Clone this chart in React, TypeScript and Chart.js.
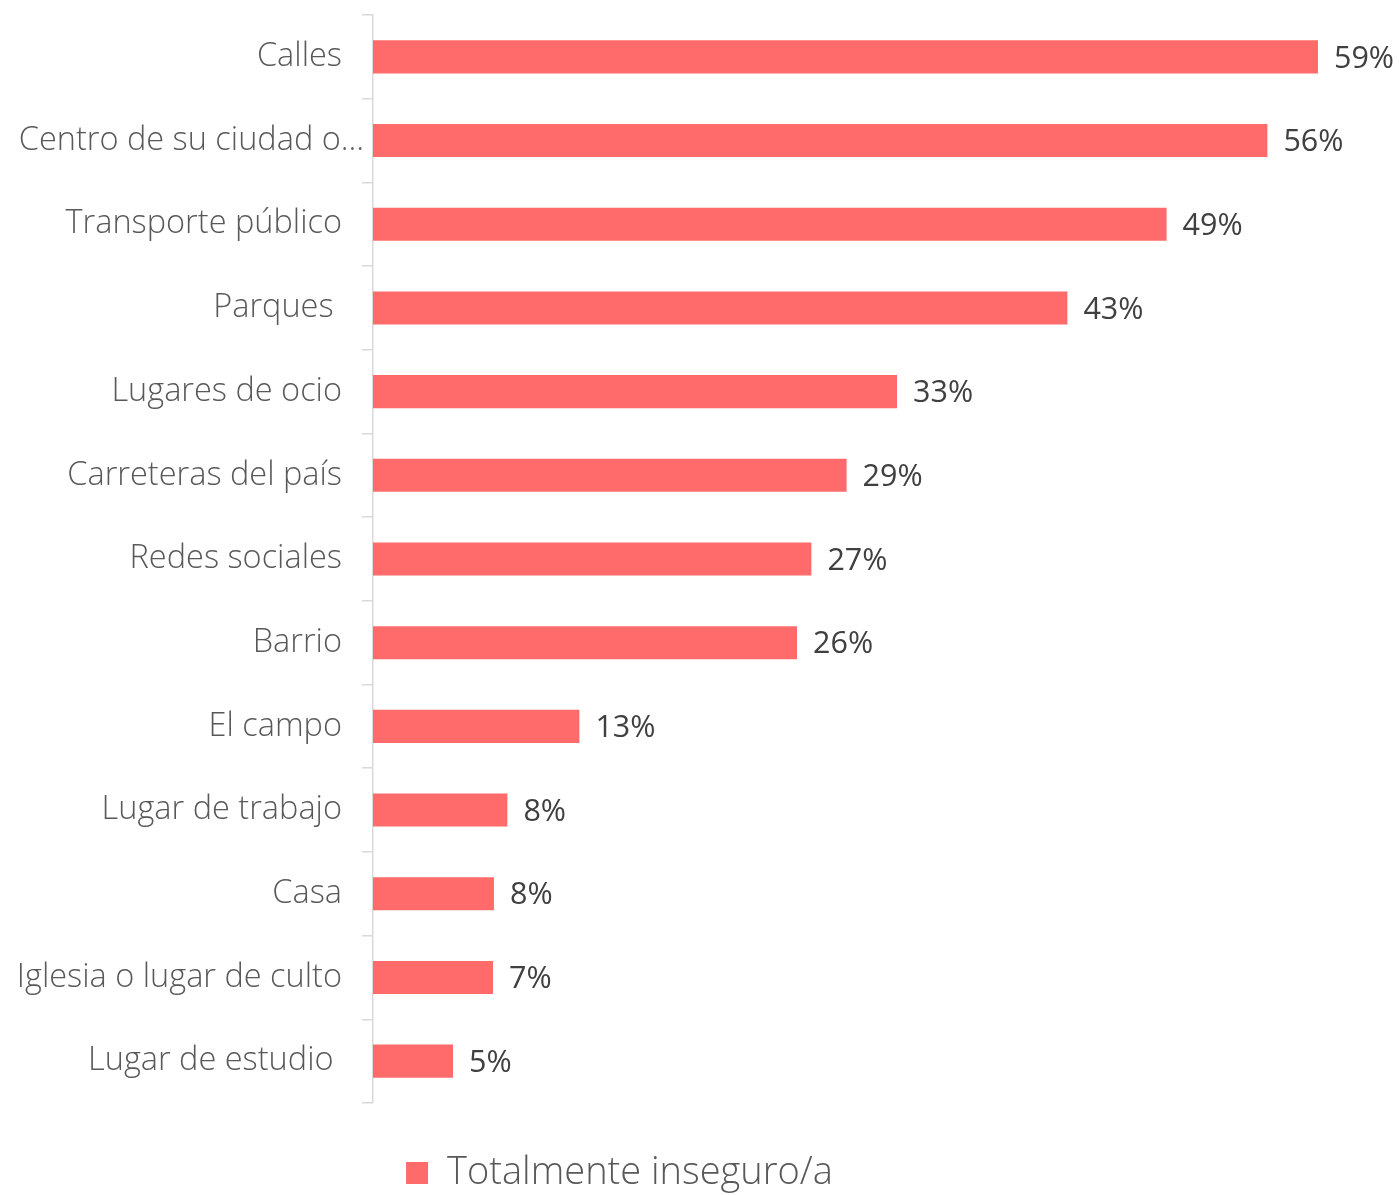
import React, { useEffect, useRef } from "react";
import { Chart, registerables } from "chart.js";

Chart.register(...registerables);

const categories = [
  "Calles",
  "Centro de su ciudad o…",
  "Transporte público",
  "Parques ",
  "Lugares de ocio",
  "Carreteras del país",
  "Redes sociales",
  "Barrio",
  "El campo",
  "Lugar de trabajo",
  "Casa",
  "Iglesia o lugar de culto",
  "Lugar de estudio ",
];

const values = [0.5906, 0.559, 0.496, 0.434, 0.3275, 0.296, 0.274, 0.265, 0.129, 0.084, 0.0756, 0.075, 0.05];

const valueLabels = ["59%", "56%", "49%", "43%", "33%", "29%", "27%", "26%", "13%", "8%", "8%", "7%", "5%"];

const seriesName = "Totalmente inseguro/a";

const xMin = 0;
const xMax = 0.6;

const BAR_COLOR = "#FF6B6B";
const LABEL_FONT = "'Open Sans', 'Noto Sans', sans-serif";

const valueLabelPlugin = {
  id: "valueLabels",
  afterDatasetsDraw(chart: any) {
    const ctx = chart.ctx;
    const meta = chart.getDatasetMeta(0);
    ctx.save();
    ctx.font = `400 30.5px ${LABEL_FONT}`;
    ctx.fillStyle = "#404040";
    ctx.textAlign = "left";
    ctx.textBaseline = "middle";
    meta.data.forEach((bar: any, i: number) => {
      ctx.fillText(valueLabels[i], bar.x + 16, bar.y + 2);
    });
    ctx.restore();
  },
};

// the truncated label sits closer to the axis in the original
const truncatedLabelPlugin = {
  id: "truncatedLabel",
  beforeDraw(chart: any) {
    const y = chart.scales.y;
    if (!y || !y.getLabelItems) return;
    const items = y.getLabelItems();
    items.forEach((it: any) => {
      const txt = Array.isArray(it.label) ? it.label.join("") : it.label;
      if (typeof txt === "string" && txt.endsWith("…") && !it._shifted) {
        it.options.translation[0] += 22;
        it._shifted = true;
      }
    });
  },
};

const legendShiftPlugin = {
  id: "legendShift",
  afterLayout(chart: any) {
    const lg = chart.legend;
    if (!lg) return;
    lg.left -= 47;
    lg.right -= 47;
    lg.top += 7;
    lg.bottom += 7;
  },
};

export default function App() {
  const canvasRef = useRef<HTMLCanvasElement | null>(null);

  useEffect(() => {
    if (!canvasRef.current) return;
    const chart = new Chart(canvasRef.current, {
      type: "bar",
      data: {
        labels: categories,
        datasets: [
          {
            label: seriesName,
            data: values,
            backgroundColor: BAR_COLOR,
            borderWidth: 0,
            barPercentage: 0.395,
            categoryPercentage: 1,
          },
        ],
      },
      options: {
        indexAxis: "y",
        responsive: false,
        maintainAspectRatio: false,
        animation: false,
        layout: { padding: { top: 15, right: 66, bottom: 0, left: 0 } },
        scales: {
          x: {
            min: xMin,
            max: xMax,
            display: true,
            ticks: { display: false },
            grid: { display: false },
            border: { display: false },
            afterFit: (s: any) => {
              s.height = 44;
            },
          },
          y: {
            offset: true,
            grid: {
              offset: true,
              drawOnChartArea: false,
              drawTicks: true,
              tickLength: 11,
              color: "#d9d9d9",
              lineWidth: 1.5,
            },
            border: { color: "#d9d9d9", width: 1.5 },
            ticks: {
              padding: 20,
              color: "#595959",
              font: { family: LABEL_FONT, size: 32.5, weight: "300" as any },
              autoSkip: false,
            },
            afterFit: (s: any) => {
              s.width = 373;
              s.paddingTop = 0;
              s.paddingBottom = 0;
            },
          },
        },
        plugins: {
          legend: {
            display: true,
            position: "bottom",
            labels: {
              boxWidth: 22,
              boxHeight: 22,
              padding: 0,
              color: "#595959",
              font: { family: LABEL_FONT, size: 38, weight: "300" as any },
            },
          },
          tooltip: { enabled: false },
        },
      },
      plugins: [valueLabelPlugin, truncatedLabelPlugin, legendShiftPlugin],
    });
    return () => chart.destroy();
  }, []);

  return (
    <div style={{ position: "fixed", left: 0, top: 0, width: 1399, height: 1195, background: "#fff" }}>
      <canvas ref={canvasRef} width={1399} height={1195} style={{ display: "block" }} />
    </div>
  );
}
